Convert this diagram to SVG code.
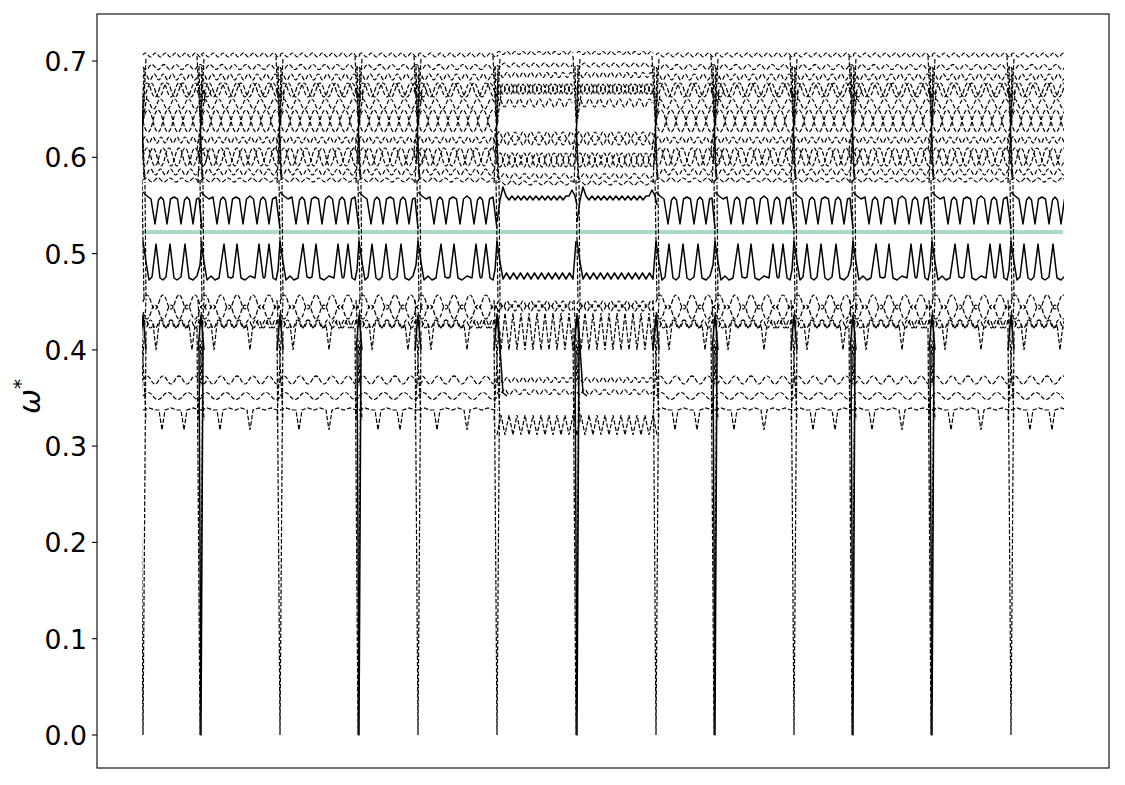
<svg xmlns="http://www.w3.org/2000/svg" width="1125" height="785" viewBox="0 0 1125 785">
<style>
.d{fill:none;stroke:#000;stroke-width:1.2;stroke-dasharray:4.4,1.9}
.s{fill:none;stroke:#000;stroke-width:1.5;stroke-linejoin:round}
.tk{stroke:#000;stroke-width:1.1}
.lbl{font-family:"DejaVu Sans",sans-serif;font-size:26.7px;text-anchor:end;fill:#000}
</style>
<defs>
<clipPath id="plotclip"><rect x="142" y="40" width="922" height="700"/></clipPath>
<g id="segN79">
<path class="d" d="M0,55 q2.5,-4 5,0 t5,0 5,0 5,0 5,0 5,0 5,0 5,0 5,0 5,0 5,0 5,0 5,0 5,0 5,0 5,0"/>
<path class="d" d="M0,67 q3,5 6,0 t6,0 6,0 6,0 6,0 6,0 6,0 6,0 6,0 6,0 6,0 6,0 6,0"/>
<path class="d" d="M0,77 q2.25,-6 4.5,0 t4.5,0 4.5,0 4.5,0 4.5,0 4.5,0 4.5,0 4.5,0 4.5,0 4.5,0 4.5,0 4.5,0 4.5,0 4.5,0 4.5,0 4.5,0 4.5,0 4.5,0"/>
<path class="d" d="M0,90 q4,-14 8,0 t8,0 8,0 8,0 8,0 8,0 8,0 8,0 8,0 8,0"/>
<path class="d" d="M-4,90 q4,14 8,0 t8,0 8,0 8,0 8,0 8,0 8,0 8,0 8,0 8,0 8,0"/>
<path class="d" d="M0,104 q3.5,-10 7,0 t7,0 7,0 7,0 7,0 7,0 7,0 7,0 7,0 7,0 7,0"/>
<path class="d" d="M0,121 q5,-22 10,0 t10,0 10,0 10,0 10,0 10,0 10,0 10,0"/>
<path class="d" d="M0,121 q5,22 10,0 t10,0 10,0 10,0 10,0 10,0 10,0 10,0"/>
<path class="d" d="M0,140 q2,-6 4,0 t4,0 4,0 4,0 4,0 4,0 4,0 4,0 4,0 4,0 4,0 4,0 4,0 4,0 4,0 4,0 4,0 4,0 4,0 4,0"/>
<path class="d" d="M0,157 q4,-18 8,0 t8,0 8,0 8,0 8,0 8,0 8,0 8,0 8,0 8,0"/>
<path class="d" d="M-2,157 q4,18 8,0 t8,0 8,0 8,0 8,0 8,0 8,0 8,0 8,0 8,0"/>
<path class="d" d="M0,172 q2.5,6 5,0 t5,0 5,0 5,0 5,0 5,0 5,0 5,0 5,0 5,0 5,0 5,0 5,0 5,0 5,0 5,0"/>
<path class="d" d="M0,180 q3,-4 6,0 t6,0 6,0 6,0 6,0 6,0 6,0 6,0 6,0 6,0 6,0 6,0 6,0"/>
<polyline class="s" points="0,192 4,196 8,199 12,197 16,224 19.5,200 22,197 24.5,200 28,224 31.5,199 35,197 38.5,199 42,224 45.5,199 49,196 52.5,199 56,224 59.5,200 62,197 64.5,200 68,224 71.5,199 75,197 79,229"/>
<polyline class="s" points="0,241 3,262 6,280 10,276 14,280 18,278 23,244 27,277 30,278 32,277 36,244 40,278 44,280 49,276 54,278 58,244 62,277 63,278 64,277 68,244 72,278 75,280 77,270 79,241"/>
<path class="d" d="M0,302 q4,-14 8,0 t8,0 8,0 8,0 8,0 8,0 8,0 8,0 8,0 8,0"/>
<path class="d" d="M0,312 q4,14 8,0 t8,0 8,0 8,0 8,0 8,0 8,0 8,0 8,0 8,0"/>
<path class="d" d="M0,324 q2.5,-8 5,0 t5,0 l3,26 3,-26 q2.5,-8 5,0 t5,0 5,0 5,0 5,0 5,0 l3,26 3,-26 q2.5,-8 5,0 t5,0 5,0 5,0 5,0"/>
<path class="d" d="M0,324 q2.5,8 5,0 t5,0 5,0 5,0 5,0 5,0 5,0 5,0 5,0 5,0 5,0 5,0 5,0 5,0 5,0 5,0"/>
<path class="d" d="M0,380 q4,-8 8,0 t8,0 8,0 8,0 8,0 8,0 8,0 8,0 8,0 8,0"/>
<path class="d" d="M0,396 q5,-7 10,0 t10,0 10,0 10,0 10,0 10,0 10,0 10,0"/>
<path class="d" d="M0,410 l6,-2 6,2 4,0 3,20 3,-20 6,-2 6,2 6,-2 6,2 3,20 3,-20 6,-2 6,2 6,-2 6,2 4,0"/>
</g>
<g id="segN59">
<path class="d" d="M0,55 q2.5,-4 5,0 t5,0 5,0 5,0 5,0 5,0 5,0 5,0 5,0 5,0 5,0 5,0"/>
<path class="d" d="M0,67 q3,5 6,0 t6,0 6,0 6,0 6,0 6,0 6,0 6,0 6,0 6,0"/>
<path class="d" d="M0,77 q2.25,-6 4.5,0 t4.5,0 4.5,0 4.5,0 4.5,0 4.5,0 4.5,0 4.5,0 4.5,0 4.5,0 4.5,0 4.5,0 4.5,0 4.5,0"/>
<path class="d" d="M0,90 q4,-14 8,0 t8,0 8,0 8,0 8,0 8,0 8,0 8,0"/>
<path class="d" d="M-4,90 q4,14 8,0 t8,0 8,0 8,0 8,0 8,0 8,0 8,0 8,0"/>
<path class="d" d="M0,104 q3.5,-10 7,0 t7,0 7,0 7,0 7,0 7,0 7,0 7,0 7,0"/>
<path class="d" d="M0,121 q5,-22 10,0 t10,0 10,0 10,0 10,0 10,0"/>
<path class="d" d="M0,121 q5,22 10,0 t10,0 10,0 10,0 10,0 10,0"/>
<path class="d" d="M0,140 q2,-6 4,0 t4,0 4,0 4,0 4,0 4,0 4,0 4,0 4,0 4,0 4,0 4,0 4,0 4,0 4,0"/>
<path class="d" d="M0,157 q4,-18 8,0 t8,0 8,0 8,0 8,0 8,0 8,0 8,0"/>
<path class="d" d="M-2,157 q4,18 8,0 t8,0 8,0 8,0 8,0 8,0 8,0 8,0"/>
<path class="d" d="M0,172 q2.5,6 5,0 t5,0 5,0 5,0 5,0 5,0 5,0 5,0 5,0 5,0 5,0 5,0"/>
<path class="d" d="M0,180 q3,-4 6,0 t6,0 6,0 6,0 6,0 6,0 6,0 6,0 6,0 6,0"/>
<polyline class="s" points="0,192 4,196 8,199 12,224 15.5,200 18,197 20.5,200 24,224 27.5,199 31,197 34.5,199 38,224 41.5,200 44,197 46.5,200 50,224 53.5,199 56,198 59,229"/>
<polyline class="s" points="0,241 3,262 6,280 9,277 13,244 17,278 20,280 23,277 27,244 31,278 34,280 38,277 42,244 46,278 50,280 54,276 57,265 59,241"/>
<path class="d" d="M0,302 q4,-14 8,0 t8,0 8,0 8,0 8,0 8,0 8,0 8,0"/>
<path class="d" d="M0,312 q4,14 8,0 t8,0 8,0 8,0 8,0 8,0 8,0 8,0"/>
<path class="d" d="M0,324 q2.5,-8 5,0 t5,0 l3,26 3,-26 q2.5,-8 5,0 t5,0 5,0 5,0 5,0 5,0 l3,26 3,-26 q2.5,-8 5,0"/>
<path class="d" d="M0,324 q2.5,8 5,0 t5,0 5,0 5,0 5,0 5,0 5,0 5,0 5,0 5,0 5,0 5,0"/>
<path class="d" d="M0,380 q4,-8 8,0 t8,0 8,0 8,0 8,0 8,0 8,0 8,0"/>
<path class="d" d="M0,396 q5,-7 10,0 t10,0 10,0 10,0 10,0 10,0"/>
<path class="d" d="M0,410 l6,-2 6,2 4,0 3,20 3,-20 6,-2 6,2 4,0 3,20 3,-20 6,-2 6,2 3,0"/>
</g>
<g id="segF">
<path class="d" d="M0,53 q2,-3 4,0 t4,0 4,0 4,0 4,0 4,0 4,0 4,0 4,0 4,0 4,0 4,0 4,0 4,0 4,0 4,0 4,0 4,0 4,0"/>
<path class="d" d="M0,65 q2.5,4 5,0 t5,0 5,0 5,0 5,0 5,0 5,0 5,0 5,0 5,0 5,0 5,0 5,0 5,0 5,0"/>
<path class="d" d="M0,75 q2,-5 4,0 t4,0 4,0 4,0 4,0 4,0 4,0 4,0 4,0 4,0 4,0 4,0 4,0 4,0 4,0 4,0 4,0 4,0 4,0"/>
<path class="d" d="M0,89 q2,-10 4,0 t4,0 4,0 4,0 4,0 4,0 4,0 4,0 4,0 4,0 4,0 4,0 4,0 4,0 4,0 4,0 4,0 4,0 4,0"/>
<path class="d" d="M0,89 q2,10 4,0 t4,0 4,0 4,0 4,0 4,0 4,0 4,0 4,0 4,0 4,0 4,0 4,0 4,0 4,0 4,0 4,0 4,0 4,0"/>
<path class="d" d="M0,103 q2.5,-8 5,0 t5,0 5,0 5,0 5,0 5,0 5,0 5,0 5,0 5,0 5,0 5,0 5,0 5,0 5,0"/>
<path class="d" d="M0,135 q2,-6 4,0 t4,0 4,0 4,0 4,0 4,0 4,0 4,0 4,0 4,0 4,0 4,0 4,0 4,0 4,0 4,0 4,0 4,0 4,0"/>
<path class="d" d="M0,142 q2,6 4,0 t4,0 4,0 4,0 4,0 4,0 4,0 4,0 4,0 4,0 4,0 4,0 4,0 4,0 4,0 4,0 4,0 4,0 4,0"/>
<path class="d" d="M0,160 q3,-14 6,0 t6,0 6,0 6,0 6,0 6,0 6,0 6,0 6,0 6,0 6,0 6,0 6,0"/>
<path class="d" d="M0,160 q3,14 6,0 t6,0 6,0 6,0 6,0 6,0 6,0 6,0 6,0 6,0 6,0 6,0 6,0"/>
<path class="d" d="M0,176 q2.5,5 5,0 t5,0 5,0 5,0 5,0 5,0 5,0 5,0 5,0 5,0 5,0 5,0 5,0 5,0 5,0"/>
<path class="d" d="M0,183 q3,-4 6,0 t6,0 6,0 6,0 6,0 6,0 6,0 6,0 6,0 6,0 6,0 6,0 6,0"/>
<path class="s" d="M0,222 L3,200 L6,187 L9,196 l3,4 3,-4 3,4 3,-4 3,4 3,-4 3,4 3,-4 3,4 3,-4 3,4 3,-4 3,4 3,-4 3,4 3,-4 3,4 3,-4 3,4 3,-4 L72,196 L75,190 L78,196 L80,205"/>
<path class="s" d="M0,241 L3,262 L6,279 l3.5,-6 3.5,6 3.5,-6 3.5,6 3.5,-6 3.5,6 3.5,-6 3.5,6 3.5,-6 3.5,6 3.5,-6 3.5,6 3.5,-6 3.5,6 3.5,-6 3.5,6 3.5,-6 3.5,6 3.5,-6 3.5,6 L79,241"/>
<path class="d" d="M0,304 q2,-6 4,0 t4,0 4,0 4,0 4,0 4,0 4,0 4,0 4,0 4,0 4,0 4,0 4,0 4,0 4,0 4,0 4,0 4,0 4,0"/>
<path class="d" d="M0,308 q2,6 4,0 t4,0 4,0 4,0 4,0 4,0 4,0 4,0 4,0 4,0 4,0 4,0 4,0 4,0 4,0 4,0 4,0 4,0 4,0"/>
<path class="d" d="M0,313 l4,37 4,-37 4,37 4,-37 4,37 4,-37 4,37 4,-37 4,37 4,-37 4,37 4,-37 4,37 4,-37 4,37 4,-37 4,37 4,-37 4,37 4,-37"/>
<path class="d" d="M0,380 q2,-5 4,0 t4,0 4,0 4,0 4,0 4,0 4,0 4,0 4,0 4,0 4,0 4,0 4,0 4,0 4,0 4,0 4,0 4,0 4,0"/>
<path class="d" d="M0,392 q2.5,5 5,0 t5,0 5,0 5,0 5,0 5,0 5,0 5,0 5,0 5,0 5,0 5,0 5,0 5,0 5,0"/>
<path class="d" d="M0,435 l4,-20 4,20 4,-20 4,20 4,-20 4,20 4,-20 4,20 4,-20 4,20 4,-20 4,20 4,-20 4,20 4,-20 4,20 4,-20 4,20 4,-20 4,20"/>
<path class="s" d="M-2,330 L1,318 L6,393 L10,396"/>
</g>
<g id="bndD">
<path class="d" d="M-4,56 L2,183 M-3,183 L3,58 M-2,66 L1,178 M1,68 L-1,160 M-4,150 L4,95 M-1,180 L1,300 M2,185 L3,300 M-3,300 L3,420 M-3,420 L3,300 M-3,328 L0,735 L3,330"/>
<path class="s" d="M-3,350 L0,315 L3,350"/>
</g>
<g id="bndS">
<path class="d" d="M-4,56 L2,183 M-3,183 L3,58 M-2,66 L1,178 M1,68 L-1,160 M-4,150 L4,95 M-1,180 L1,300 M2,185 L3,300 M-3,300 L3,420 M-3,420 L3,300 M-4,328 L-1,735 L2,330"/>
<path class="s" d="M-3,350 L0,315 L3,350 M-2,345 L0,735 L2,345"/>
</g>
</defs>
<rect x="0" y="0" width="1125" height="785" fill="#fff"/>
<g id="zero-line">
<line x1="143" y1="232" x2="1063" y2="232" stroke="#a9dcc0" stroke-width="4"/>
</g>
<g id="curves" clip-path="url(#plotclip)">
<use href="#segN59" x="143"/>
<use href="#segN79" x="201"/>
<use href="#segN79" x="280"/>
<use href="#segN59" x="359"/>
<use href="#segN79" x="418"/>
<use href="#segF" x="497"/>
<use href="#segF" x="577"/>
<use href="#segN59" x="656"/>
<use href="#segN79" x="715"/>
<use href="#segN59" x="794"/>
<use href="#segN79" x="853"/>
<use href="#segN79" x="932"/>
<use href="#segN59" x="1011"/>
<use href="#bndD" x="143"/>
<use href="#bndS" x="201"/>
<use href="#bndD" x="280"/>
<use href="#bndS" x="359"/>
<use href="#bndD" x="418"/>
<use href="#bndD" x="497"/>
<use href="#bndS" x="577"/>
<use href="#bndD" x="656"/>
<use href="#bndS" x="715"/>
<use href="#bndD" x="794"/>
<use href="#bndS" x="853"/>
<use href="#bndS" x="932"/>
<use href="#bndD" x="1011"/>
</g>
<g id="axes">
<rect x="97" y="14" width="1012" height="754" fill="none" stroke="#000" stroke-width="1.1"/>
<line class="tk" x1="92" y1="735" x2="97" y2="735"/>
<line class="tk" x1="92" y1="638.7" x2="97" y2="638.7"/>
<line class="tk" x1="92" y1="542.4" x2="97" y2="542.4"/>
<line class="tk" x1="92" y1="446.1" x2="97" y2="446.1"/>
<line class="tk" x1="92" y1="349.9" x2="97" y2="349.9"/>
<line class="tk" x1="92" y1="253.6" x2="97" y2="253.6"/>
<line class="tk" x1="92" y1="157.3" x2="97" y2="157.3"/>
<line class="tk" x1="92" y1="61" x2="97" y2="61"/>
<text class="lbl" x="87" y="745">0.0</text>
<text class="lbl" x="87" y="648.7">0.1</text>
<text class="lbl" x="87" y="552.4">0.2</text>
<text class="lbl" x="87" y="456.1">0.3</text>
<text class="lbl" x="87" y="359.9">0.4</text>
<text class="lbl" x="87" y="263.6">0.5</text>
<text class="lbl" x="87" y="167.3">0.6</text>
<text class="lbl" x="87" y="71">0.7</text>
<text transform="translate(40,414) rotate(-90)" font-family="DejaVu Sans, sans-serif" font-size="30" fill="#000"><tspan font-style="italic">ω</tspan><tspan font-size="20" dy="-13">*</tspan></text>
</g>
</svg>
